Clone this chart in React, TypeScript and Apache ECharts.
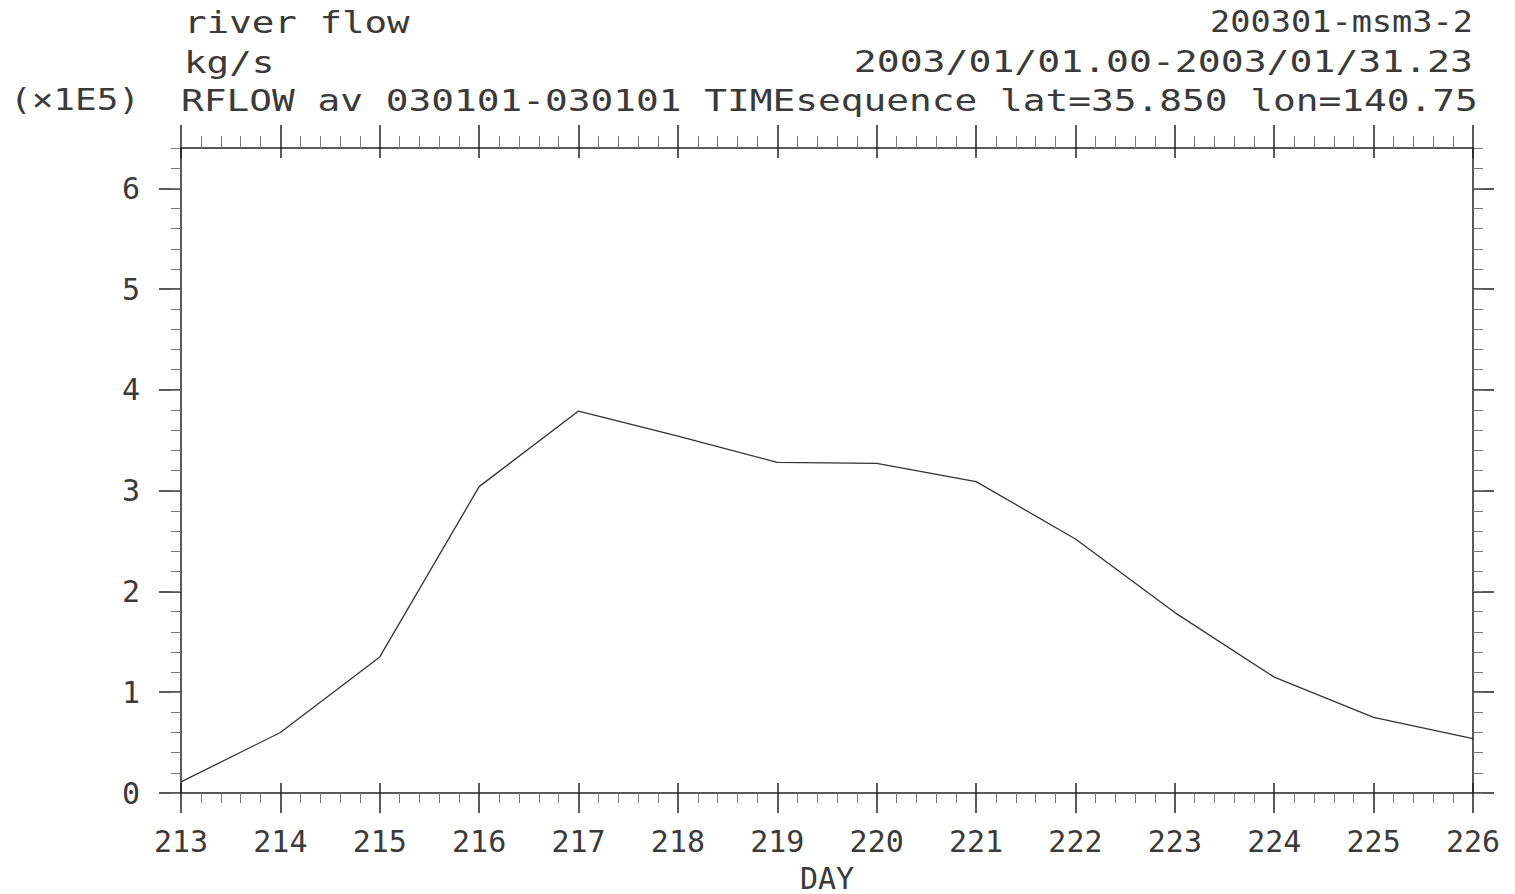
import React, { useEffect, useRef } from "react";
import * as echarts from "echarts";

const days = [213, 214, 215, 216, 217, 218, 219, 220, 221, 222, 223, 224, 225, 226];
const flow = [0.11, 0.6, 1.35, 3.04, 3.79, 3.54, 3.28, 3.27, 3.09, 2.52, 1.79, 1.15, 0.75, 0.54];
const yMajorTicks = [0, 1, 2, 3, 4, 5, 6];
const yMinorTicks = [
  0, 0.2, 0.4, 0.6, 0.8, 1, 1.2, 1.4, 1.6, 1.8, 2, 2.2, 2.4, 2.6, 2.8, 3, 3.2, 3.4, 3.6, 3.8,
  4, 4.2, 4.4, 4.6, 4.8, 5, 5.2, 5.4, 5.6, 5.8, 6, 6.2, 6.4,
];
const titleLeft = ["river flow", "kg/s", "RFLOW av 030101-030101 TIMEsequence lat=35.850 lon=140.75"];
const titleRight = ["200301-msm3-2", "2003/01/01.00-2003/01/31.23"];
const scaleText = "(×1E5)";
const xName = "DAY";

const FONT = "DejaVu Sans Mono";
const TXT = "#3a3a3a";
const AX = "#222";
const MINOR = "#777";

export default function App() {
  const ref = useRef<HTMLDivElement>(null);
  useEffect(() => {
    document.body.style.margin = "0";
    const chart = echarts.init(ref.current!, null, { renderer: "svg" });
    const gl = 181, gr = 42, gt = 148, gb = 101;
    const xBase = {
      type: "value",
      min: 213,
      max: 226,
      interval: 1,
      splitLine: { show: false },
    };
    const yBase = {
      type: "value",
      min: 0,
      max: 6.4,
      splitLine: { show: false },
    };
    const lineOn = { show: true, onZero: false, lineStyle: { color: AX, width: 1.5 } };
    const lineOff = { show: false, onZero: false };
    const textEl = (x: number, y: number, text: string, align: string, sx: number) => ({
      type: "text",
      x,
      y,
      scaleX: sx,
      style: {
        text,
        fill: TXT,
        font: `30px "${FONT}"`,
        textAlign: align,
        textVerticalAlign: "middle",
      },
      silent: true,
    });
    chart.setOption({
      animation: false,
      backgroundColor: "#fff",
      grid: {
        left: gl,
        right: gr,
        top: gt,
        bottom: gb,
        containLabel: false,
        outerBoundsMode: "none",
      },
      xAxis: [
        {
          ...xBase,
          position: "bottom",
          axisLine: lineOn,
          axisTick: { show: true, inside: false, length: 20, lineStyle: { color: AX, width: 1.5 } },
          minorTick: { show: true, splitNumber: 5, length: 10, lineStyle: { color: MINOR, width: 1 } },
          axisLabel: { show: true, color: TXT, fontFamily: FONT, fontSize: 30, margin: 33 },
          name: xName,
          nameLocation: "middle",
          nameGap: 70,
          nameTextStyle: { color: TXT, fontFamily: FONT, fontSize: 30 },
        },
        {
          ...xBase,
          position: "bottom",
          axisLine: lineOff,
          axisTick: { show: true, inside: true, length: 10, lineStyle: { color: AX, width: 1.5 } },
          axisLabel: { show: false },
        },
        {
          ...xBase,
          position: "top",
          axisLine: lineOn,
          axisTick: { show: true, inside: false, length: 23, lineStyle: { color: AX, width: 1.5 } },
          minorTick: { show: true, splitNumber: 5, length: 12, lineStyle: { color: MINOR, width: 1 } },
          axisLabel: { show: false },
        },
        {
          ...xBase,
          position: "top",
          axisLine: lineOff,
          axisTick: { show: true, inside: true, length: 10, lineStyle: { color: AX, width: 1.5 } },
          axisLabel: { show: false },
        },
      ],
      yAxis: [
        {
          ...yBase,
          position: "left",
          axisLine: lineOn,
          axisTick: { show: true, inside: false, length: 22, customValues: yMajorTicks, lineStyle: { color: AX, width: 1.5 } },
          axisLabel: { show: true, customValues: yMajorTicks, color: TXT, fontFamily: FONT, fontSize: 30, margin: 41 },
        },
        {
          ...yBase,
          position: "left",
          axisLine: lineOff,
          axisTick: { show: true, inside: false, length: 10, customValues: yMinorTicks, lineStyle: { color: MINOR, width: 1 } },
          axisLabel: { show: false },
        },
        {
          ...yBase,
          position: "right",
          axisLine: lineOn,
          axisTick: { show: true, inside: false, length: 21, customValues: yMajorTicks, lineStyle: { color: AX, width: 1.5 } },
          axisLabel: { show: false },
        },
        {
          ...yBase,
          position: "right",
          axisLine: lineOff,
          axisTick: { show: true, inside: false, length: 10, customValues: yMinorTicks, lineStyle: { color: MINOR, width: 1 } },
          axisLabel: { show: false },
        },
      ],
      graphic: [
        textEl(184, 22, titleLeft[0], "left", 1.25),
        textEl(184, 62, titleLeft[1], "left", 1.25),
        textEl(181, 100, titleLeft[2], "left", 1.26),
        textEl(1473, 22, titleRight[0], "right", 1.12),
        textEl(1473, 62, titleRight[1], "right", 1.27),
        textEl(10, 100, scaleText, "left", 1.2),
      ],
      series: [
        {
          type: "line",
          xAxisIndex: 0,
          yAxisIndex: 0,
          data: days.map((d, i) => [d, flow[i]]),
          showSymbol: false,
          symbol: "none",
          lineStyle: { color: "#333", width: 1.3 },
        },
      ],
    });
    return () => chart.dispose();
  }, []);
  return <div ref={ref} style={{ width: 1515, height: 894 }} />;
}
